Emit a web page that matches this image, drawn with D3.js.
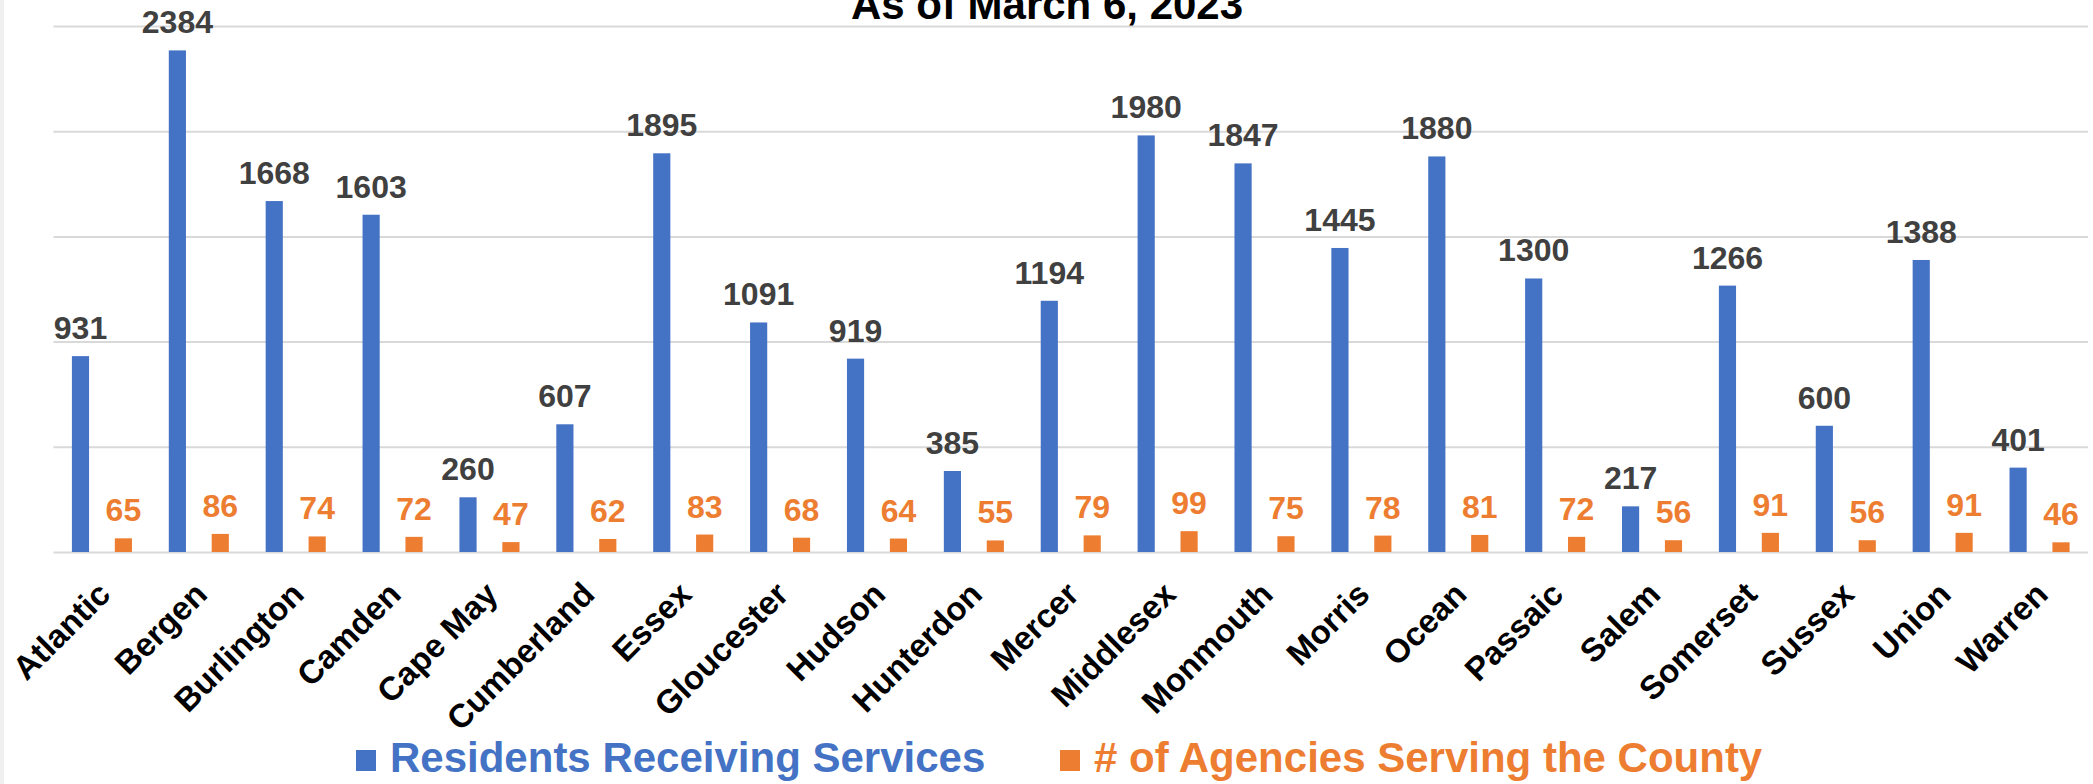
<!DOCTYPE html>
<html>
<head>
<meta charset="utf-8">
<script src="https://cdn.jsdelivr.net/npm/d3@7"></script>
<style>
  html, body { margin: 0; padding: 0; background: #f0f0f0; }
  #chart { position: absolute; left: 4px; top: 0; width: 2089px; height: 784px; background: #fff; }
  text { font-family: "Liberation Sans", Arial, sans-serif; font-weight: bold; }
</style>
</head>
<body>
<div id="chart"></div>
<script>
const counties = ["Atlantic", "Bergen", "Burlington", "Camden", "Cape May", "Cumberland", "Essex",
    "Gloucester", "Hudson", "Hunterdon", "Mercer", "Middlesex", "Monmouth", "Morris", "Ocean",
    "Passaic", "Salem", "Somerset", "Sussex", "Union", "Warren"];
const residents = [931, 2384, 1668, 1603, 260, 607, 1895, 1091, 919, 385, 1194, 1980, 1847, 1445,
    1880, 1300, 217, 1266, 600, 1388, 401];
const agencies = [65, 86, 74, 72, 47, 62, 83, 68, 64, 55, 79, 99, 75, 78, 81, 72, 56, 91, 56, 91, 46];
const seriesNames = ["Residents Receiving Services", "# of Agencies Serving the County"];
const yTicks = [0, 500, 1000, 1500, 2000, 2500];

const colors = ["#4472C4", "#ED7D31"];
const labelColors = ["#404040", "#ED7D31"];

const width = 2089, height = 784;
// svg is shifted 4px right by the container, so plot left 49.5 -> page 53.5
const margin = {top: 26, right: 5, bottom: 232, left: 49.5};
const innerW = width - margin.left - margin.right;
const innerH = height - margin.top - margin.bottom;

const svg = d3.select("#chart").append("svg")
    .attr("width", width)
    .attr("height", height);

const g = svg.append("g")
    .attr("transform", `translate(${margin.left}, ${margin.top})`);

const x0 = d3.scaleBand()
    .domain(counties)
    .range([0, innerW])
    .padding(0);

const bw = x0.bandwidth();
const x1 = d3.scaleBand()
    .domain([0, 1])
    .range([bw * 0.19, bw * 0.81])
    .paddingInner(0.6);

const y = d3.scaleLinear()
    .domain([0, 2500])
    .range([innerH, 0]);

// gridlines
const grid = g.append("g")
    .call(d3.axisLeft(y).tickValues(yTicks).tickSize(-innerW).tickFormat(""));
grid.select(".domain").remove();
grid.selectAll(".tick line")
    .attr("stroke", "#d9d9d9")
    .attr("stroke-width", 2);

// category axis
const xAxis = g.append("g")
    .attr("transform", `translate(0, ${innerH})`)
    .call(d3.axisBottom(x0).tickSize(0).tickPadding(0));
xAxis.select(".domain").remove();
xAxis.selectAll(".tick text")
    .attr("fill", "#000")
    .style("font-size", "33px")
    .attr("text-anchor", "end")
    .attr("dy", "0.35em")
    .attr("y", 0)
    .attr("transform", "translate(2, 36) rotate(-45)");

const rows = counties.map((c, i) => ({county: c, values: [residents[i], agencies[i]]}));

const groups = g.append("g")
    .selectAll("g")
    .data(rows)
    .enter().append("g")
    .attr("transform", d => `translate(${x0(d.county)}, 0)`);

groups.selectAll("rect")
    .data(d => d.values.map((v, k) => ({k: k, v: v})))
    .enter().append("rect")
    .attr("x", d => x1(d.k))
    .attr("width", x1.bandwidth())
    .attr("y", d => y(d.v))
    .attr("height", d => innerH - y(d.v))
    .attr("fill", d => colors[d.k]);

groups.selectAll("text.val")
    .data(d => d.values.map((v, k) => ({k: k, v: v})))
    .enter().append("text")
    .attr("class", "val")
    .attr("x", d => x1(d.k) + x1.bandwidth() / 2)
    .attr("y", d => y(d.v) - 17)
    .attr("text-anchor", "middle")
    .style("font-size", "32px")
    .attr("fill", d => labelColors[d.k])
    .text(d => d.v);

// title (top clipped in the original)
svg.append("text")
    .attr("x", 1043)
    .attr("y", 18.5)
    .attr("text-anchor", "middle")
    .style("font-size", "42px")
    .attr("fill", "#000")
    .text("As of March 6, 2023");

// legend
const legendX = [352, 1056];
const legend = svg.append("g");
seriesNames.forEach((name, i) => {
    legend.append("rect")
        .attr("x", legendX[i])
        .attr("y", 750)
        .attr("width", 20)
        .attr("height", 21)
        .attr("fill", colors[i]);
    legend.append("text")
        .attr("x", legendX[i] + 34)
        .attr("y", 772)
        .style("font-size", "42px")
        .attr("fill", colors[i])
        .text(name);
});
</script>
</body>
</html>
